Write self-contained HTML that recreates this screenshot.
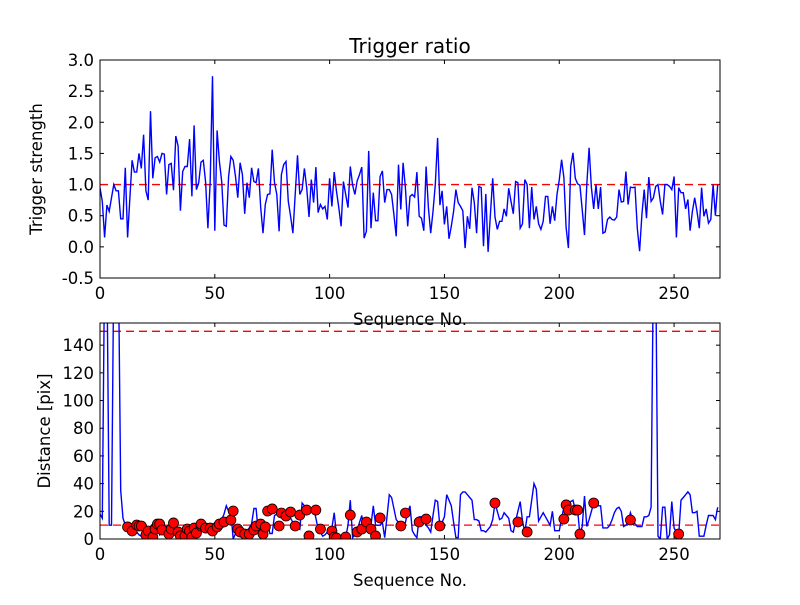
<!DOCTYPE html>
<html><head><meta charset="utf-8"><style>
body{margin:0;background:#fff}
svg text{font-family:"DejaVu Sans","Liberation Sans",sans-serif;fill:#000}
</style></head><body>
<svg id="fig" width="800" height="600" xmlns="http://www.w3.org/2000/svg">
<rect width="800" height="600" fill="#fff"/>
<defs>
<clipPath id="c1"><rect x="100" y="60" width="620" height="218"/></clipPath>
<clipPath id="c2"><rect x="100" y="323" width="620" height="216"/></clipPath>
</defs>
<text x="410" y="53" font-size="20" text-anchor="middle">Trigger ratio</text>
<g id="top"></g>
<g id="bot"></g>
</svg>
<script>
const ratioValues=[0.95,0.73,0.15,0.67,0.57,0.79,1.0,0.9,0.9,0.45,0.45,1.27,0.15,0.79,1.39,1.2,1.2,1.5,1.26,1.8,0.9,0.75,2.18,1.1,1.43,1.45,1.36,1.5,1.49,0.84,1.32,1.34,0.91,1.78,1.62,0.58,1.21,1.29,1.29,1.73,0.81,1.95,0.92,1.03,1.36,1.39,1.04,0.3,1.05,2.74,0.26,1.87,1.37,1.05,0.35,0.33,1.13,1.45,1.39,1.13,0.79,1.35,1.16,0.53,1.03,0.79,1.27,1.05,
1.03,1.26,0.63,0.22,0.68,0.84,0.85,1.56,1.03,0.84,0.25,1.16,1.32,1.37,0.73,0.49,0.22,0.84,1.47,0.84,0.92,1.26,0.95,0.48,1.08,0.71,1.28,0.55,0.68,0.61,0.65,0.44,1.1,0.65,1.2,0.89,0.63,0.33,1.05,0.84,0.63,1.29,0.99,0.84,1.06,1.16,1.28,0.14,0.25,1.54,0.3,0.87,0.42,0.42,1.13,1.22,0.71,0.92,0.92,0.84,0.52,0.17,1.32,0.6,1.35,0.95,0.33,0.81,0.84,
0.8,1.2,0.49,0.46,0.26,1.29,0.63,0.22,0.57,1.0,1.75,0.67,0.9,0.36,0.65,0.13,0.33,0.57,0.92,0.71,0.65,0.58,-0.02,0.49,0.29,0.95,0.71,0.22,0.97,0.95,0.01,0.85,-0.08,0.52,1.1,0.48,0.28,0.41,0.41,0.61,0.49,0.94,0.73,0.53,1.05,1.03,0.3,0.37,1.08,1.0,0.3,0.96,0.44,0.65,0.37,0.28,0.41,0.81,0.81,0.37,0.65,0.42,0.84,1.08,1.4,1.11,0.31,
-0.02,1.29,1.51,1.1,1.01,0.99,0.6,0.19,1.0,1.59,0.95,0.61,1.0,0.61,0.96,0.22,0.24,0.44,0.48,0.44,0.43,0.48,0.92,0.72,0.73,1.21,0.68,0.96,0.95,0.96,0.3,-0.07,0.52,0.92,0.46,1.12,0.73,0.79,0.97,1.0,0.73,0.52,1.0,1.0,0.97,0.92,1.13,0.15,0.95,0.87,0.87,0.61,0.76,0.26,0.57,0.79,0.57,0.3,0.95,0.49,0.61,0.38,0.44,1.0,0.5,1.0];
const distValues=[18,15,200,200,10,10,200,200,200,35,15,10,
10,10,10,8,5,3,2,4,6,
8,9,11,12,10,3,5,9,9,9, 8,9,9,4,2,3,4,6,9,8, 4,6,9,9,10,11,11,9,7,8, 10,12,14,18,24,20,19,0,4,7,
6,5,5,6,8,11,22,22,4,6, 11,11,11,4,4,17,18,19,20,20, 19,19,15,12,10,8,7,26,24,22, 22,22,22,15,7,5,2,3,5,8,
8,19,3,2,1,1,1,10,28,1, 3,6,12,17,5,8,10,10,24,10, 10,10,12,1,16,32,30,22,14,12, 12,7,12,19,24,6,3,1,16,16,
16,10,8,5,17,28,27,9,12,16, 32,28,24,12,1,1,32,34,34,32, 30,28,14,14,13,6,6,5,7,9, 14,26,20,14,15,19,17,15,6,5,
13,20,27,13,5,16,16,28,40,36, 13,16,19,16,13,10,20,6,6,6, 15,23,25,26,27,28,21,21,3,9, 31,9,14,20,26,25,24,24,8,8,
8,10,14,19,22,23,20,9,10,12, 19,14,11,9,9,9,16,16,17,23, 200,200,2,0,23,23,0,3,27,8, 5,3,28,30,32,34,32,19,19,20,
2,2,2,10,17,17,17,14,23];
const markerX=[12,14,16,17,18,20,21,23,24,25,26,27,30,31,32,34,35,37,38,39,40,41,42,44,44,46,48,49,51,52,54,57,58,60,61,63,65,67,68,70,71,72,73,75,78,79,81,83,85,87,90,91,94,96,101,102,103,107,109,112,114,116,118,120,122,131,133,139,142,148,172,182,186,202,203,204,207,208,209,215,231,252];
const markerY=[8.7,5.8,10.1,9.4,9.4,2.9,5.8,1.4,7.2,10.8,10.8,6.5,3.6,7.2,11.6,5.1,2.2,2.2,7.2,5.8,1.4,7.9,4.3,9.4,10.8,7.9,7.9,5.8,8.7,10.8,12.3,13.7,20.2,7.2,5.1,3.6,3.6,6.5,9.4,10.8,3.6,8.7,20.2,21.7,9.4,18.8,16.6,19.5,9.4,17.3,20.9,2.2,20.9,7.2,5.8,1.4,0.7,1.4,17.3,5.1,7.2,12.3,7.2,2.2,15.2,9.4,18.8,12.3,14.4,9.4,26,12.3,5.1,14.4,24.6,20.9,20.9,20.9,3.6,26,13.7,3.6];
const xTicks=[0,50,100,150,200,250];
const topYTicks=["-0.5","0.0","0.5","1.0","1.5","2.0","2.5","3.0"];
const botYTicks=[0,20,40,60,80,100,120,140];
const NS="http://www.w3.org/2000/svg";
function mk(parent,tag,attrs){const e=document.createElementNS(NS,tag);for(const k in attrs)e.setAttribute(k,attrs[k]);parent.appendChild(e);return e;}
const X=v=>100+v*620/270;
function axes(g,top,bot,ymin,ymax,yt,labelY,label,xl){
  const Y=v=>bot-(v-ymin)*(bot-top)/(ymax-ymin);
  xTicks.forEach(t=>{
    const l=mk(g,'line',{x1:X(t),x2:X(t),y1:bot,y2:bot-4,stroke:'#000'});
    
    mk(g,'line',{x1:X(t),x2:X(t),y1:top,y2:top+4,stroke:'#000'});
    const tx=mk(g,'text',{x:X(t),y:bot+21,'font-size':16.5,'text-anchor':'middle'});tx.textContent=t;
    
  });
  yt.forEach(t=>{
    const v=parseFloat(t);
    mk(g,'line',{x1:100,x2:104,y1:Y(v),y2:Y(v),stroke:'#000'});
    mk(g,'line',{x1:716,x2:720,y1:Y(v),y2:Y(v),stroke:'#000'});
    const tx=mk(g,'text',{x:94,y:Y(v)+6,'font-size':16.5,'text-anchor':'end'});tx.textContent=t;
    
  });
  const yl=mk(g,'text',{x:0,y:0,'font-size':16.5,'text-anchor':'middle',transform:`translate(${labelY},${(top+bot)/2}) rotate(-90)`});yl.textContent=label;
  
  const xt=mk(g,'text',{x:410,y:bot+47,'font-size':16.5,'text-anchor':'middle'});xt.textContent=xl;
  
  return Y;
}
function frame(g,top,bot){const r=mk(g,'rect',{x:100,y:top,width:620,height:bot-top,fill:'none',stroke:'#000','stroke-width':1});
  }
const gt=document.getElementById('top');
const Yt=axes(gt,60,278,-0.5,3.0,topYTicks,42,'Trigger strength','Sequence No.');
const th=mk(gt,'line',{x1:100,x2:720,y1:Yt(1),y2:Yt(1),stroke:'#f00','stroke-dasharray':'8,5','stroke-width':1.3});

const p1=mk(gt,'path',{d:ratioValues.map((v,i)=>(i?'L':'M')+X(i).toFixed(1)+','+Yt(v).toFixed(1)).join(''),fill:'none',stroke:'#00f','stroke-width':1.4,'clip-path':'url(#c1)'});

frame(gt,60,278);
const gb=document.getElementById('bot');
const Yb=axes(gb,323,539,0,156,botYTicks.map(String),50,'Distance [pix]','Sequence No.');
[10,150].forEach(v=>{const l=mk(gb,'line',{x1:100,x2:720,y1:Yb(v),y2:Yb(v),stroke:'#f00','stroke-dasharray':'8,5','stroke-width':1.3,'clip-path':'url(#c2)'});
  });
const p2=mk(gb,'path',{d:distValues.map((v,i)=>(i?'L':'M')+X(i).toFixed(1)+','+Yb(v).toFixed(1)).join(''),fill:'none',stroke:'#00f','stroke-width':1.4,'clip-path':'url(#c2)'});

markerX.forEach((x,i)=>{const c=mk(gb,'circle',{cx:X(x),cy:Yb(markerY[i]),r:5,fill:'#f00',stroke:'#000','stroke-width':0.8,'clip-path':'url(#c2)'});
  });
frame(gb,323,539);
</script>
</body></html>
